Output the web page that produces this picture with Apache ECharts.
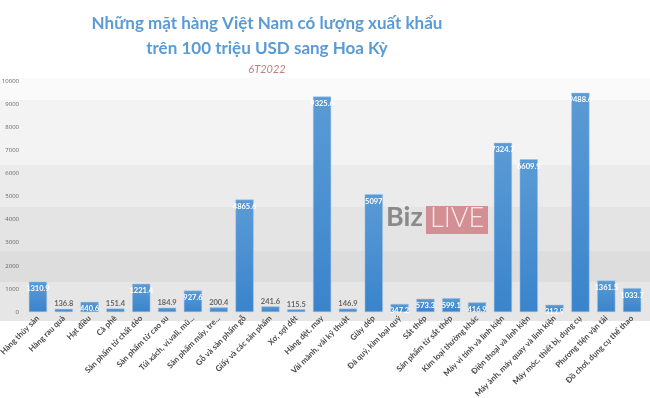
<!DOCTYPE html>
<html><head><meta charset="utf-8">
<script src="https://cdn.jsdelivr.net/npm/echarts@6/dist/echarts.min.js"></script>
<style>html,body{margin:0;padding:0;background:#fff}#c{width:650px;height:398px}</style>
</head><body><div id="c"></div>
<script>
const categories = ["Hàng thủy sản","Hàng rau quả","Hạt điều","Cà phê","Sản phẩm từ chất dẻo","Sản phẩm từ cao su","Túi xách, ví,vali, mũ...","Sản phẩm mây, tre...","Gỗ và sản phẩm gỗ","Giấy và các sản phẩm","Xơ, sợi dệt","Hàng dệt, may","Vải mành, vải kỹ thuật","Giày dép","Đá quý, kim loại quý","Sắt thép","Sản phẩm từ sắt thép","Kim loại thường khác","Máy vi tính và linh kiện","Điện thoại và linh kiện","Máy ảnh, máy quay và linh kiện","Máy móc, thiết bị, dụng cụ","Phương tiện vận tải","Đồ chơi, dụng cụ thể thao"];
const values = [1310.9,136.8,440.6,151.4,1221.4,184.9,927.6,200.4,4865.6,241.6,115.5,9325.6,146.9,5097,347.2,573.3,599.1,416.9,7324.7,6609.9,312.9,9488.6,1361.5,1033.7];
const yTicks = [0,1000,2000,3000,4000,5000,6000,7000,8000,9000,10000];

const chart = echarts.init(document.getElementById('c'), null, {renderer:'canvas'});
const barColor = new echarts.graphic.LinearGradient(0,0,0,1,[{offset:0,color:'#5b9bd5'},{offset:1,color:'#3a84cc'}]);
const data = values.map(v => {
  const small = v < 300;
  return {
    value: v,
    label: small ? {position:'top', color:'#666', distance:1} : {position:'insideTop', color:'#fff', distance:3}
  };
});
const bg = new echarts.graphic.LinearGradient(0,0,0,1,[
  {offset:0,color:'#fafafa'},{offset:0.09,color:'#fafafa'},
  {offset:0.09,color:'#f3f3f3'},{offset:0.36,color:'#f3f3f3'},
  {offset:0.36,color:'#ebebeb'},{offset:0.53,color:'#ebebeb'},
  {offset:0.53,color:'#e4e4e4'},{offset:0.71,color:'#e4e4e4'},
  {offset:0.71,color:'#dddddd'},{offset:0.84,color:'#dddddd'},
  {offset:0.84,color:'#e6e6e6'},{offset:1,color:'#e6e6e6'}
]);
chart.setOption({
  backgroundColor:'#fff',
  animation:false,
  graphic:[
    {type:'rect', z:-10, silent:true, shape:{x:0,y:78,width:650,height:243}, style:{fill:bg}},
    {type:'text', z:1, left:386, top:204, style:{text:'Biz', fill:'#8a8a8a', font:'bold 27px Lato'}},
    {type:'rect', z:1, shape:{x:426,y:206,width:62,height:28}, style:{fill:'#d38f94'}},
    {type:'text', z:2, left:430, top:205, style:{text:'LIVE', fill:'#fbeaea', font:'300 27px Lato'}}
  ],
  title:[
    {text:'Những mặt hàng Việt Nam có lượng xuất khẩu\ntrên 100 triệu USD sang Hoa Kỳ', left:262, top:6, textAlign:'center',
     textStyle:{color:'#5b9bd5', fontFamily:'Lato', fontWeight:'bold', fontSize:17, lineHeight:25, align:'center'}},
    {text:'6T2022', left:262, top:59, textAlign:'center', textStyle:{color:'#c08080', fontFamily:'Lato', fontStyle:'italic', fontWeight:'normal', fontSize:11}}
  ],
  grid:{left:25, right:5, top:81, bottom:86, containLabel:false, outerBoundsMode:'none'},
  xAxis:{type:'category', data:categories,
    axisLine:{show:false}, axisTick:{show:false},
    axisLabel:{interval:0, rotate:45, fontSize:8, fontWeight:'bold', color:'#4a4a4a', fontFamily:'Lato', margin:5}
  },
  yAxis:{type:'value', min:0, max:10000, interval:1000,
    axisLine:{show:false}, axisTick:{show:false}, splitLine:{show:false},
    axisLabel:{fontSize:6, color:'#666', margin:6, fontFamily:'Open Sans',
      formatter: v => yTicks.includes(v) ? String(v) : ''}
  },
  series:[{type:'bar', data:data, barWidth:'70%',
    itemStyle:{color:barColor, borderColor:'#9cc3e8', borderWidth:0.5},
    label:{show:true, fontSize:7.5, fontWeight:'bold', fontFamily:'Lato'}
  }]
});
</script></body></html>
